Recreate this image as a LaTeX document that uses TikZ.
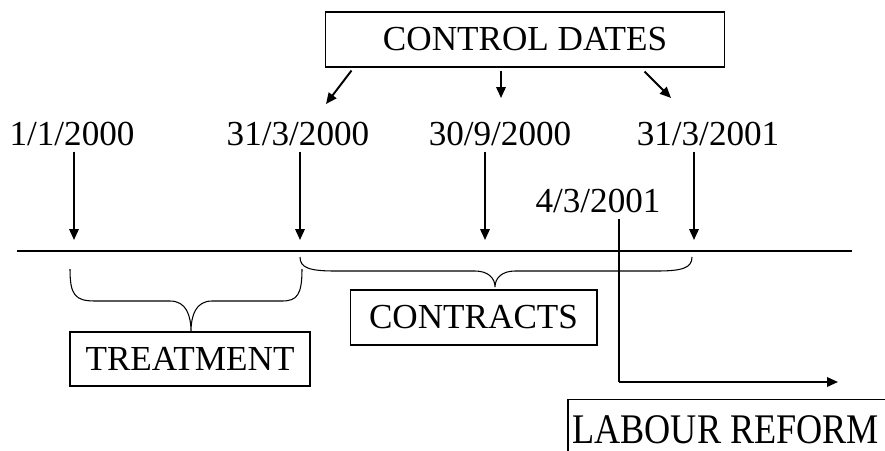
\documentclass[tikz,border=0pt]{standalone}
\usepackage{fontspec}
\setmainfont{Liberation Serif}
\usepackage{graphicx}
\usepackage{tikz}
\usetikzlibrary{positioning,calc,arrows.meta}

\begin{document}
\begin{tikzpicture}[x=0.02cm,y=-0.02cm,
    datelbl/.style={anchor=base,font=\fontsize{20}{24}\selectfont},
    boxlbl/.style={draw,line width=0.6pt,font=\fontsize{20}{24}\selectfont,inner sep=0pt},
    arr/.style={line width=1.1pt,-{Triangle[length=0.22cm,width=0.19cm]}}]
    \useasboundingbox (0,0) rectangle (885,450);
    \clip (0,0) rectangle (885,450);
    % Time axis
    \draw[line width=0.6pt] (17,251) -- (852,251);
    % Dates
    \node[datelbl] (d1) at (72,145) {1/1/2000};
    \node[datelbl] (d2) at (298,145) {31/3/2000};
    \node[datelbl] (d3) at (500,145) {30/9/2000};
    \node[datelbl] (d4) at (708,145) {31/3/2001};
    \node[datelbl] (d5) at (598,212) {4/3/2001};
    \coordinate (t1) at (74,240);
    \coordinate (t2) at (300,240);
    \coordinate (t3) at (485,240);
    \coordinate (t4) at (694,240);
    \foreach \d/\t in {d1/t1,d2/t2,d3/t3,d4/t4}
        \draw[arr] (\d.south -| \t) -- (\t);
    % Control dates
    \node[boxlbl,minimum width=8cm,minimum height=1.1cm] (cd) at (525,39.5) {CONTROL DATES};
    \coordinate (cd2) at (326,104);
    \coordinate (cd3) at (501,98);
    \coordinate (cd4) at (671,98);
    \draw[arr] ([shift={(27,3)}]cd.south west) -- (cd2);
    \draw[arr] ([shift={(-24,3)}]cd.south) -- (cd3);
    \draw[arr] ([shift={(-81,4)}]cd.south east) -- (cd4);
    % Braces
    \draw[line width=0.6pt] (70,269) .. controls (70,295) and (75,301) .. (95,301) -- (170,301)
        .. controls (186,301) and (191,315) .. (191,332)
        .. controls (191,315) and (196,301) .. (212,301) -- (282,301)
        .. controls (297,301) and (302,295) .. (302,269);
    \draw[line width=0.6pt] (300,257) .. controls (300,268) and (310,271) .. (335,271) -- (475,271)
        .. controls (488,271) and (495,278) .. (495,287)
        .. controls (495,278) and (502,271) .. (515,271) -- (657,271)
        .. controls (682,271) and (692,268) .. (692,257);
    \node[boxlbl,minimum width=4.8cm,minimum height=1.08cm] (treat) at (190,359) {TREATMENT};
    \node[boxlbl,minimum width=4.94cm,minimum height=1.1cm] (contr) at (473.5,317.5) {CONTRACTS};
    % Labour reform
    \coordinate (bend) at (619,382);
    \coordinate (lrend) at (838,382);
    \draw[line width=0.6pt] (d5.south -| bend) -- (bend);
    \draw[arr] (bend) -- (lrend);
    \node[anchor=base west,inner sep=0pt,font=\fontsize{20}{24}\selectfont] (lr) at (572,443) {\scalebox{1.03}[1.2]{LABOUR REFORM}};
    \draw[line width=0.6pt] ([shift={(-4,-15)}]lr.north west) rectangle (900,470);
\end{tikzpicture}
\end{document}
